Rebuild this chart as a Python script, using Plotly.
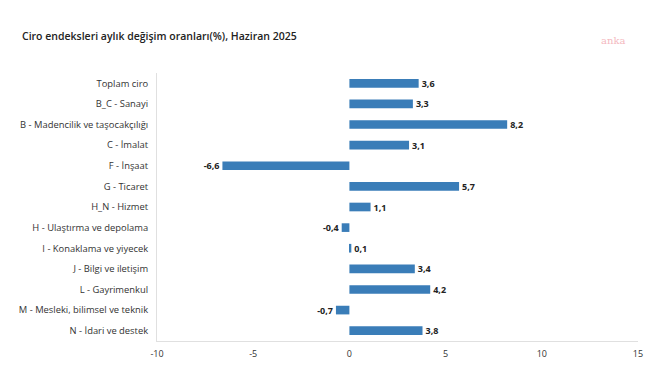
import plotly.graph_objects as go

categories = ["Toplam ciro", "B_C - Sanayi", "B - Madencilik ve taşocakçılığı", "C - İmalat",
              "F - İnşaat", "G - Ticaret", "H_N - Hizmet", "H - Ulaştırma ve depolama",
              "I - Konaklama ve yiyecek", "J - Bilgi ve iletişim", "L - Gayrimenkul",
              "M - Mesleki, bilimsel ve teknik", "N - İdari ve destek"]
values = [3.6, 3.3, 8.2, 3.1, -6.6, 5.7, 1.1, -0.4, 0.1, 3.4, 4.2, -0.7, 3.8]
tick_vals = [-10, -5, 0, 5, 10, 15]
tick_text = ["-10", "-5", "0", "5", "10", "15"]

labels = [f"{v:.1f}".replace(".", ",") for v in values]

# page body has an 8px default margin, so the figure is sized to fill the rest
W, H = 656, 368
ML, MR, MT, MB = 149, 26, 65, 35
PW, PH = W - ML - MR, H - MT - MB

fig = go.Figure(go.Bar(
    y=categories, x=values, orientation="h",
    marker=dict(color="#3a7db8", line=dict(width=0)),
    width=0.42,
    text=labels, textposition="outside", cliponaxis=False, constraintext="none",
    textfont=dict(family="Open Sans", size=9, color="#222222", weight="bold"),
))

fig.update_layout(
    width=W, height=H,
    margin=dict(l=ML, r=MR, t=MT, b=MB, autoexpand=False),
    paper_bgcolor="white", plot_bgcolor="white",
    showlegend=False,
    font=dict(family="Open Sans", size=9, color="#333333"),
    title=dict(text="Ciro endeksleri aylık değişim oranları(%), Haziran 2025",
               x=14/W, xanchor="left", y=1-28/H, yanchor="middle",
               font=dict(family="Open Sans", size=10.5, color="#222222", weight=600)),
    xaxis=dict(range=[-10, 15], tickvals=tick_vals, ticktext=tick_text, automargin=False,
               showgrid=False, zeroline=False, showline=True, linecolor="#e0e0e0",
               linewidth=1, ticks="", ticklabelstandoff=4, tickfont=dict(size=9, color="#333333")),
    yaxis=dict(autorange="reversed", showgrid=False, zeroline=False, automargin=False,
               showline=True, linecolor="#e0e0e0", linewidth=1, ticks="",
               ticklabelstandoff=6, tickfont=dict(size=9.4, color="#333333")),
)

fig.add_annotation(text="anka", xref="paper", yref="paper",
                   x=(605 - ML) / PW, y=1 + (65 - 32) / PH,
                   xanchor="center", yanchor="middle", showarrow=False,
                   font=dict(family="DejaVu Serif", size=10, color="#f4b8c0"))

fig.write_html("out.html")
